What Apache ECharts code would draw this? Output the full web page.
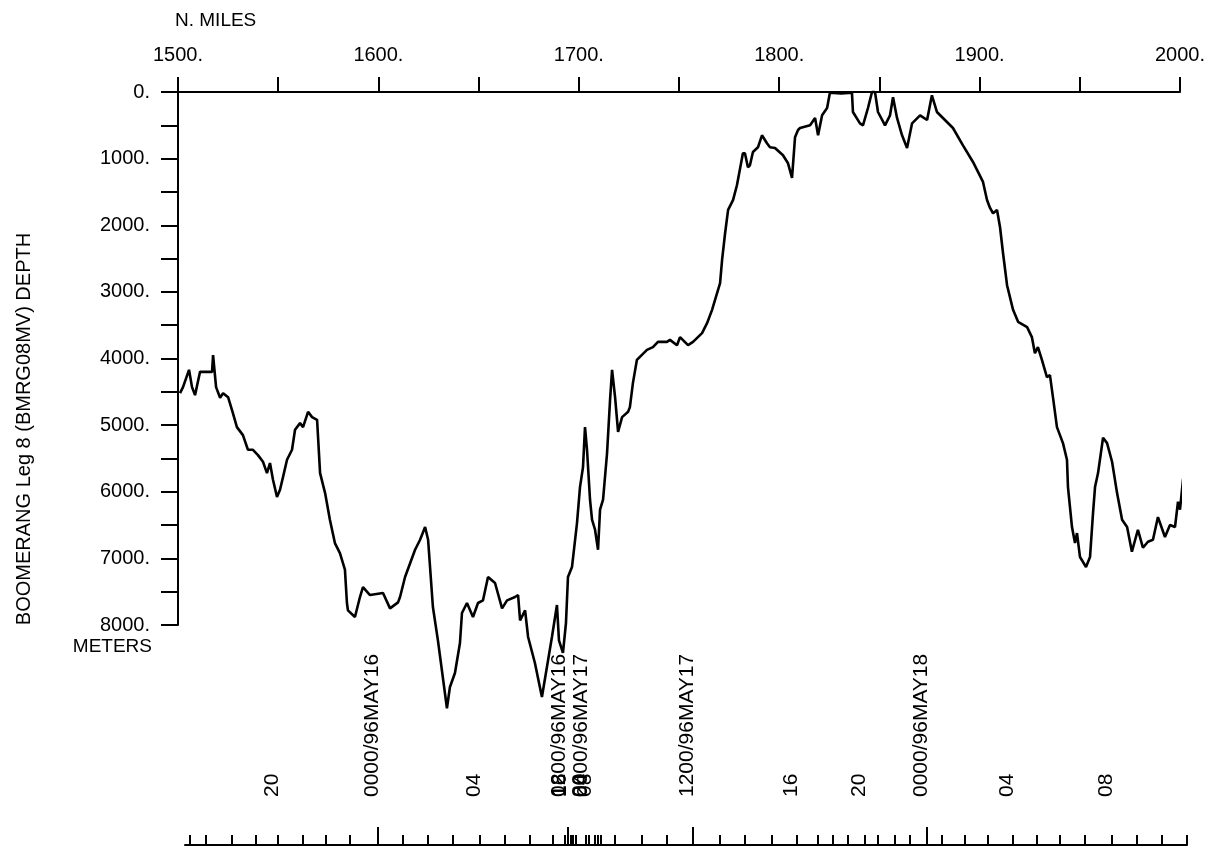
<!DOCTYPE html>
<html>
<head>
<meta charset="utf-8">
<script src="https://cdn.jsdelivr.net/npm/echarts@6/dist/echarts.min.js"></script>
<style>
  html, body { margin: 0; padding: 0; background: #fff; }
  #chart { width: 1213px; height: 849px; }
</style>
</head>
<body>
<div id="chart"></div>
<script>
// Along-track distance (nautical miles) and bottom depth (meters)
const distanceMiles = [
  1501.0,1502.5,1505.5,1507.0,1508.5,1511.0,1517.0,1517.5,1519.0,1521.0,
  1522.5,1525.0,1527.4,1529.4,1532.4,1534.9,1537.4,1539.9,1542.4,1544.4,
  1545.9,1547.4,1549.4,1550.9,1552.4,1554.4,1556.9,1558.4,1560.9,1562.4,
  1564.9,1566.9,1569.4,1570.9,1573.4,1575.8,1578.3,1580.8,1583.3,1584.3,
  1584.8,1588.3,1590.8,1592.3,1595.8,1602.3,1605.8,1609.8,1610.8,1613.3,
  1618.3,1620.8,1623.3,1624.8,1627.2,1629.7,1634.2,1635.7,1638.2,1640.7,
  1641.7,1644.2,1647.2,1649.7,1652.2,1654.7,1658.2,1661.7,1664.2,1668.2,
  1669.7,1670.7,1673.2,1674.7,1678.1,1681.6,1684.1,1686.6,1689.1,1690.1,
  1692.1,1693.6,1694.6,1696.6,1699.1,1700.6,1702.1,1703.1,1704.1,1705.6,
  1706.6,1708.1,1709.6,1710.6,1712.1,1714.1,1715.6,1716.6,1718.1,1719.6,
  1721.6,1724.6,1725.5,1727.0,1729.0,1734.0,1737.0,1739.5,1744.0,1745.5,
  1749.0,1750.5,1754.5,1757.0,1761.5,1764.0,1766.5,1769.0,1770.5,1771.5,
  1773.0,1774.5,1777.0,1778.9,1779.4,1781.9,1782.9,1784.4,1785.4,1786.9,
  1789.4,1791.4,1793.9,1795.4,1797.9,1801.9,1804.4,1806.4,1807.9,1809.4,
  1810.4,1815.4,1817.9,1819.4,1821.4,1823.9,1825.3,1831.0,1836.3,1836.8,
  1840.3,1841.8,1844.3,1846.3,1847.8,1849.3,1852.8,1855.3,1856.8,1858.8,
  1861.3,1863.8,1866.3,1870.3,1873.8,1876.2,1878.7,1881.7,1886.7,1891.7,
  1896.7,1901.7,1903.7,1905.2,1906.7,1908.7,1910.2,1911.7,1913.7,1916.7,
  1919.2,1923.7,1926.1,1927.6,1929.1,1931.1,1933.6,1935.1,1936.6,1938.6,
  1941.6,1943.6,1944.1,1946.1,1947.6,1948.6,1950.1,1953.1,1955.1,1956.6,
  1957.6,1959.1,1961.6,1963.6,1966.1,1968.6,1971.1,1973.6,1976.0,1979.0,
  1981.5,1984.0,1986.5,1989.0,1992.5,1995.0,1997.5,1999.0,2000.0,2001.5,
  2003.0
];
const depthMeters = [
  4520,4430,4170,4430,4550,4200,4200,3950,4430,4590,
  4520,4580,4820,5030,5150,5370,5370,5450,5550,5720,
  5570,5820,6080,5970,5780,5520,5370,5070,4970,5030,
  4800,4880,4920,5720,6020,6420,6770,6920,7170,7670,
  7780,7880,7580,7430,7550,7520,7750,7660,7580,7280,
  6870,6720,6530,6720,7730,8230,9250,8930,8720,8270,
  7820,7670,7880,7670,7630,7280,7370,7750,7630,7580,
  7550,7930,7780,8180,8570,9080,8630,8180,7700,8230,
  8420,7970,7280,7130,6470,5930,5630,5030,5370,6120,
  6420,6570,6870,6270,6120,5420,4620,4170,4580,5100,
  4880,4800,4730,4370,4020,3870,3830,3750,3750,3720,
  3800,3680,3800,3750,3620,3470,3270,3020,2870,2520,
  2120,1770,1620,1400,1320,920,920,1130,1100,900,
  830,650,770,830,840,950,1070,1290,680,570,
  540,500,390,650,350,240,10,20,10,300,
  470,500,240,0,0,300,500,350,80,390,
  650,840,470,350,420,50,300,390,540,800,
  1050,1350,1620,1740,1820,1770,2030,2420,2900,3270,
  3450,3530,3680,3920,3830,4020,4280,4250,4580,5030,
  5270,5520,5930,6530,6770,6620,6980,7130,6980,6320,
  5930,5720,5190,5270,5550,6020,6420,6530,6900,6570,
  6840,6750,6720,6380,6680,6500,6530,6150,6270,5820,
  5600
];

// Ship time along the track: hourly marks, 00/12 marks, and their labels
const hourTickMiles = [
  1502.5,1510.5,1523.5,1535.4,1546.4,1558.9,1570.4,1582.3,1596.3,1608.8,
  1621.3,1633.7,1647.2,1659.7,1672.2,1683.6,1689.6,1691.1,1692.6,1693.6,
  1695.1,1700.1,1701.6,1704.6,1706.1,1707.6,1714.6,1728.0,1740.5,1753.5,
  1767.0,1779.4,1792.9,1805.4,1815.9,1823.4,1830.8,1839.3,1845.8,1854.3,
  1861.8,1870.3,1877.7,1889.2,1900.7,1913.2,1925.1,1936.6,1949.1,1962.6,
  1975.0,1987.5,2000.0
];
const dayTickMiles = [1596.3, 1691.1, 1753.5, 1870.3];
const timeLabelMiles = [
  1546.4, 1596.3, 1647.2, 1689.6, 1689.8, 1690.0,
  1700.4, 1700.6, 1700.8, 1702.5,
  1753.5, 1805.4, 1839.3, 1870.3, 1913.2, 1962.6
];
const timeLabelText = [
  '20', '0000/96MAY16', '04', '0800/96MAY16', '12', '16',
  '20', '0000/96MAY17', '04', '08',
  '1200/96MAY17', '16', '20', '0000/96MAY18', '04', '08'
];

const FONT = '"Liberation Sans", Arial, sans-serif';
const INK = '#000';

const chart = echarts.init(document.getElementById('chart'), null, { renderer: 'canvas' });

const option = {
  animation: false,
  backgroundColor: '#fff',
  grid: [
    { left: 178, right: 33, top: 92, bottom: 224, containLabel: false },
    { left: 185, right: 26, top: 700, bottom: 4, containLabel: false }
  ],
  xAxis: [
    {
      type: 'value', gridIndex: 0, position: 'top',
      min: 1500, max: 2000, interval: 50,
      axisLine: { show: true, onZero: false, lineStyle: { color: INK, width: 2 } },
      axisTick: { show: true, inside: false, length: 15, lineStyle: { color: INK, width: 2 } },
      axisLabel: {
        show: true, margin: 27, color: INK, fontFamily: FONT, fontSize: 20,
        formatter: v => (v % 100 === 0 ? v + '.' : '')
      },
      splitLine: { show: false }
    },
    {
      type: 'value', gridIndex: 1, position: 'bottom',
      min: 1500, max: 2000,
      axisLine: { show: true, onZero: false, lineStyle: { color: INK, width: 2 } },
      axisTick: { show: true, inside: true, length: 10, customValues: hourTickMiles,
                  lineStyle: { color: INK, width: 2 } },
      axisLabel: {
        show: true, inside: true, rotate: 90, margin: 48, hideOverlap: false,
        color: INK, fontFamily: FONT, fontSize: 21,
        verticalAlign: 'bottom', lineHeight: 12,
        customValues: timeLabelMiles,
        formatter: v => {
          const i = timeLabelMiles.indexOf(v);
          return i >= 0 ? timeLabelText[i] : '';
        }
      },
      splitLine: { show: false }
    },
    {
      type: 'value', gridIndex: 1, position: 'bottom',
      min: 1500, max: 2000,
      axisLine: { show: false, onZero: false },
      axisTick: { show: true, inside: true, length: 18, customValues: dayTickMiles,
                  lineStyle: { color: INK, width: 2 } },
      axisLabel: { show: false },
      splitLine: { show: false }
    }
  ],
  yAxis: [
    {
      type: 'value', gridIndex: 0, inverse: true,
      min: 0, max: 8000, interval: 500,
      axisLine: { show: true, onZero: false, lineStyle: { color: INK, width: 2 } },
      axisTick: { show: true, inside: false, length: 17, lineStyle: { color: INK, width: 2 } },
      axisLabel: {
        show: true, margin: 28, color: INK, fontFamily: FONT, fontSize: 20,
        formatter: v => (v % 1000 === 0 ? v + '.' : '')
      },
      splitLine: { show: false }
    },
    {
      type: 'value', gridIndex: 1, min: 0, max: 1, show: false
    }
  ],
  series: [
    {
      name: 'Depth',
      type: 'line',
      xAxisIndex: 0, yAxisIndex: 0,
      data: distanceMiles.map((m, i) => [m, depthMeters[i]]),
      showSymbol: false,
      clip: false,
      smooth: false,
      lineStyle: { color: INK, width: 2.6 },
      emphasis: { disabled: true }
    }
  ],
  graphic: [
    {
      type: 'text', x: 175, y: 11,
      style: { text: 'N. MILES', fill: INK, font: '19px ' + FONT,
               textAlign: 'left', textVerticalAlign: 'top' }
    },
    {
      type: 'text', x: 152, y: 637,
      style: { text: 'METERS', fill: INK, font: '19px ' + FONT,
               textAlign: 'right', textVerticalAlign: 'top' }
    },
    {
      type: 'text', x: 24, y: 429, rotation: Math.PI / 2,
      style: { text: 'BOOMERANG Leg 8 (BMRG08MV) DEPTH', fill: INK, font: '20px ' + FONT,
               textAlign: 'center', textVerticalAlign: 'middle' }
    }
  ]
};

chart.setOption(option);
</script>
</body>
</html>
